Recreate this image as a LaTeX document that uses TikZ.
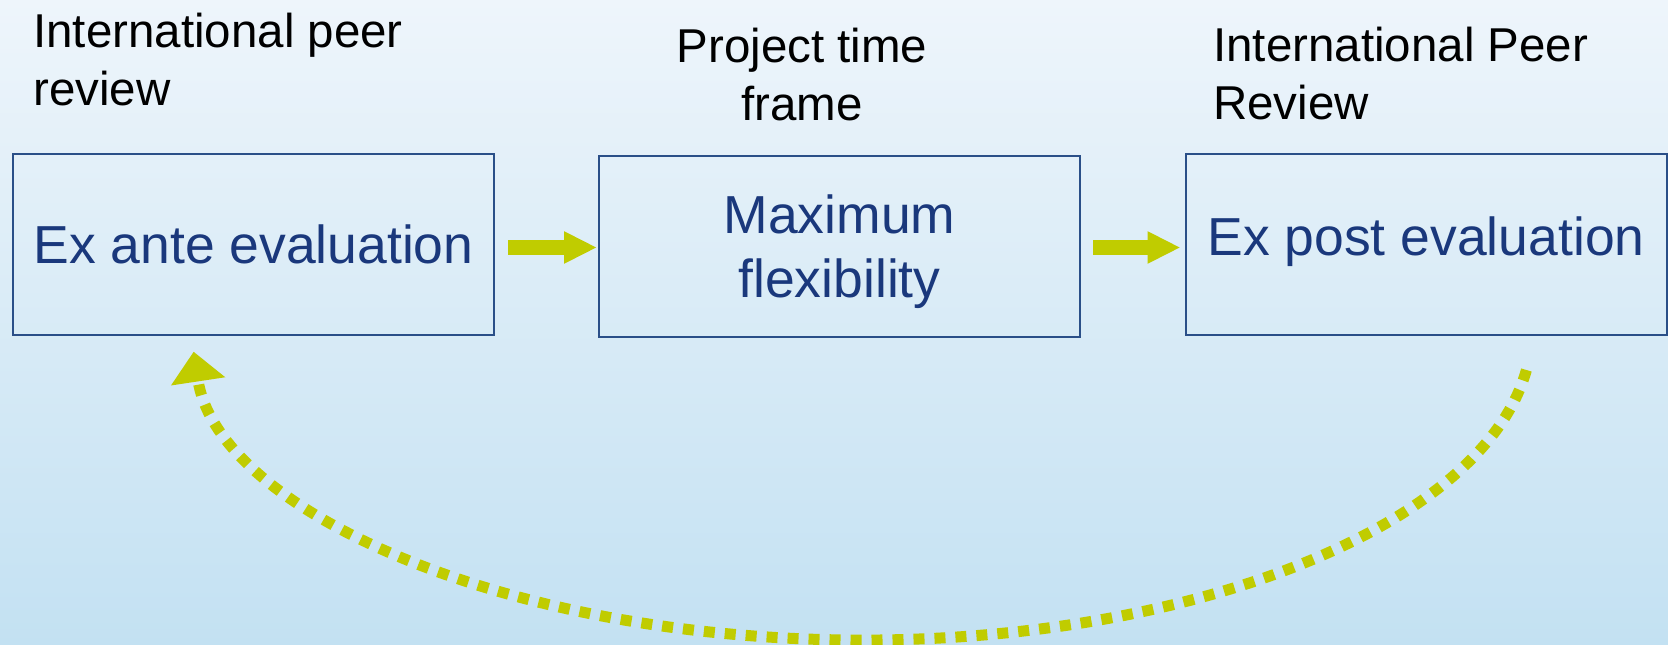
\documentclass[tikz,border=0pt]{standalone}
\usepackage{fontspec}
\setmainfont{Liberation Sans}
\usetikzlibrary{arrows.meta}
\definecolor{bgtop}{RGB}{238,245,251}
\definecolor{bgbot}{RGB}{195,225,242}
\definecolor{boxline}{RGB}{42,79,136}
\definecolor{navy}{RGB}{26,56,124}
\definecolor{lime}{RGB}{192,204,0}
\newcommand{\shiftline}[2]{\raisebox{#1}[\height][\depth]{#2}}
\tikzset{
  label/.style={inner sep=0pt, font=\fontsize{47.5}{58}\selectfont, text=black},
  stage/.style={draw=boxline, line width=2pt, inner sep=0pt, minimum width=481pt, minimum height=181pt,
    align=center, text=navy, font=\fontsize{53.5}{64}\selectfont},
  fatarrow/.style={draw=lime, line width=15pt, -{Triangle[length=33pt, width=30pt]}},
  loopback/.style={draw=lime, line width=11pt, line cap=butt, dash pattern=on 11pt off 10pt,
    -{Triangle[length=30pt, width=53pt]}}
}
\begin{document}
\begin{tikzpicture}[x=1pt, y=-1pt]
\useasboundingbox (0,0) rectangle (1668,645);
\shade[top color=bgtop, bottom color=bgbot] (0,0) rectangle (1668,645);
\node[label, anchor=base west, align=left] (lab1) at (33,105) {International peer\\review};
\node[label, anchor=base, align=center] (lab2) at (802,120) {Project time\\frame};
\node[label, anchor=base west, align=left] (lab3) at (1213,119.5) {International Peer\\Review};
\node[stage] (box1) at (253.5,244.5) {Ex ante evaluation};
\node[stage] (box2) at (839.5,246.5) {\shiftline{-5pt}{Maximum}\\\shiftline{-5pt}{flexibility}};
\node[stage] (box3) at (1426,244.5) {\shiftline{3pt}{Ex post evaluation}};
\draw[fatarrow, shorten <=13pt, shorten >=1pt] ([yshift=-3pt]box1.east) -- ([yshift=-1pt]box2.west);
\draw[fatarrow, shorten <=12pt, shorten >=4pt] ([yshift=-1pt]box2.east) -- ([yshift=-3pt]box3.west);
\coordinate (cstart) at (1526.4,370);
\draw[loopback] (cstart) arc[start angle=-7.4, end angle=-176, x radius=670pt, y radius=310pt];
\end{tikzpicture}
\end{document}
